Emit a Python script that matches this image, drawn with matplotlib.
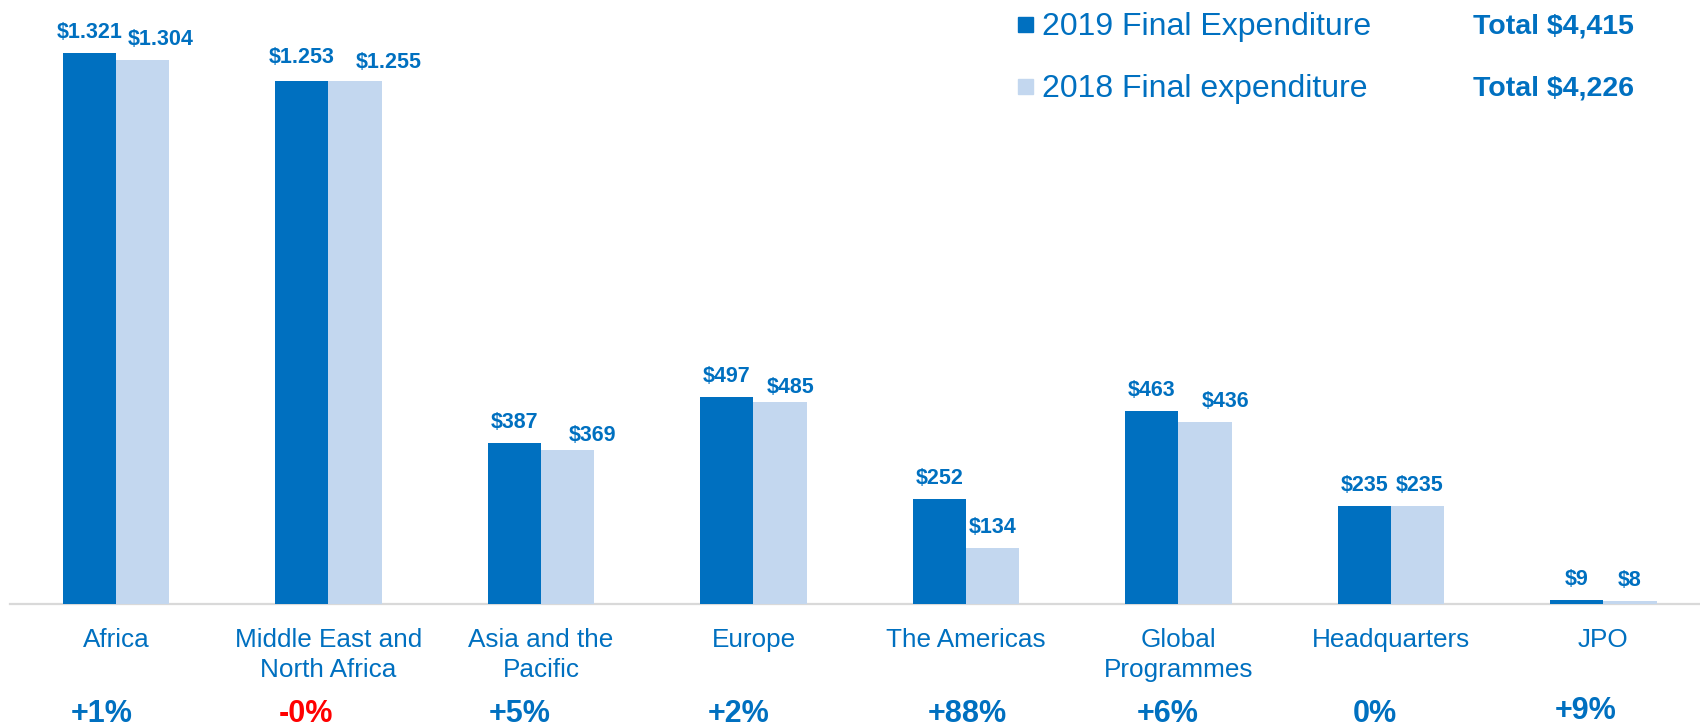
import matplotlib.pyplot as plt
from matplotlib import transforms
from matplotlib.patches import Rectangle

plt.rcParams['font.family'] = ['Liberation Sans', 'DejaVu Sans']

regions = ['Africa', 'Middle East and\nNorth Africa', 'Asia and the\nPacific', 'Europe',
           'The Americas', 'Global\nProgrammes', 'Headquarters', 'JPO']
exp_2019 = [1321, 1253, 387, 497, 252, 463, 235, 9]
exp_2018 = [1304, 1255, 369, 485, 134, 436, 235, 8]
labels_2019 = ['$1.321', '$1.253', '$387', '$497', '$252', '$463', '$235', '$9']
labels_2018 = ['$1.304', '$1.255', '$369', '$485', '$134', '$436', '$235', '$8']
changes = ['+1%', '-0%', '+5%', '+2%', '+88%', '+6%', '0%', '+9%']
legend_names = ['2019 Final Expenditure', '2018 Final expenditure']
totals = ['Total $4,415', 'Total $4,226']

dark = '#0070C0'
light = '#C3D7EF'
W, H = 1700, 728

# hand placed label nudges in the original slide (pixels)
dx18 = [18, 34, 25, 11, 0, 21, 2, 0]
dy18 = [15, 13, 9, 9, 15, 15, 15, 15]
dy19 = [15, 18, 15, 15, 15, 15, 15, 15]
dx_pct = [-14, -23, -21, -15, 1, -11, -16, -18]

fig = plt.figure(figsize=(17, 7.28), dpi=100)
ax = fig.add_axes([9.7 / W, 124 / H, 1.0, 604 / H])

x = list(range(len(regions)))
bw = 0.25
ax.bar([i - bw / 2 for i in x], exp_2019, bw, color=dark, zorder=3)
ax.bar([i + bw / 2 for i in x], exp_2018, bw, color=light, zorder=3)
ax.set_xlim(-0.5, 7.5)
ax.set_ylim(0, 1448)

for s in ['top', 'left', 'right']:
    ax.spines[s].set_visible(False)
ax.spines['bottom'].set_color('#D9D9D9')
ax.spines['bottom'].set_linewidth(1.6)
ax.spines['bottom'].set_zorder(2)
ax.set_xticks([])
ax.set_yticks([])

pt = 72 / 100
for i in x:
    ax.annotate(labels_2019[i], (i - bw / 2, exp_2019[i]), xytext=(0, dy19[i] * pt),
                textcoords='offset points', ha='center', va='baseline',
                fontsize=15.5, fontweight='bold', color=dark)
    ax.annotate(labels_2018[i], (i + bw / 2, exp_2018[i]), xytext=(dx18[i] * pt, dy18[i] * pt),
                textcoords='offset points', ha='center', va='baseline',
                fontsize=15.5, fontweight='bold', color=dark)

tr = transforms.blended_transform_factory(ax.transData, fig.transFigure)
for i in x:
    ax.text(i, 1 - 628 / H, regions[i], transform=tr, ha='center', va='top',
            fontsize=18.8, color=dark, linespacing=1.3)
    yb = 719 if regions[i] == 'JPO' else 722
    ax.annotate(changes[i], (i, 1 - yb / H), xycoords=tr, xytext=(dx_pct[i] * pt, 0),
                textcoords='offset points', ha='center', va='baseline', fontsize=22,
                fontweight='bold', color='#FF0000' if changes[i].startswith('-') else dark)

# legend and totals
for k, (name, tot, col) in enumerate(zip(legend_names, totals, [dark, light])):
    base = 35 + k * 62
    fig.patches.append(Rectangle((1018 / W, 1 - (base - 3) / H), 15 / W, 15 / H,
                                 transform=fig.transFigure, color=col))
    fig.text(1042 / W, 1 - base / H, name, ha='left', va='baseline', fontsize=23, color=dark)
    fig.text(1634 / W, 1 - (base - 2) / H, tot, ha='right', va='baseline',
             fontsize=20.5, fontweight='bold', color=dark)

fig.savefig('out.png', dpi=100)
